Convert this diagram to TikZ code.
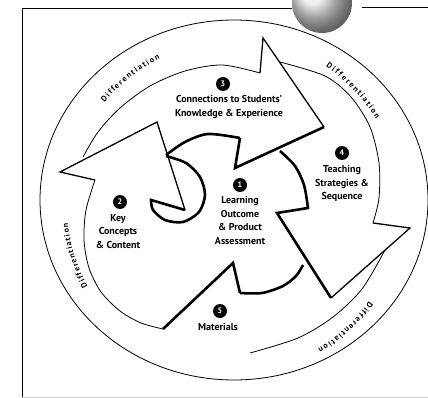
\documentclass[tikz,border=0pt]{standalone}
\usepackage{fontspec}
\setmainfont{PT Sans}
\usetikzlibrary{positioning, decorations.text}

\begin{document}
\begin{tikzpicture}[
x=1pt, y=-1pt,
every node/.style={
align=center,
inner sep=0pt,
font=\bfseries\fontsize{10}{13.5}\selectfont
},
thinline/.style={line width=0.8pt},
edgeline/.style={line width=1.3pt, line join=miter},
heavyline/.style={line width=2.6pt, line join=miter},
badge/.style={circle, fill=black, text=white, minimum size=14pt,
  font=\bfseries\fontsize{8}{8}\selectfont},
difftext/.style={decorate, decoration={text along path,
  text={|\bfseries\fontsize{8}{8}\selectfont|Differentiation},
  text align={fit to path}, raise=-3pt}}
]
\useasboundingbox (0,0) rectangle (428,398);

% ------------------------
% Frame and ball
% ------------------------
\draw[thinline] (22,398) -- (22,8) -- (292,8);
\draw[thinline] (362,7) -- (428,7);
\draw[gray!40, thinline] (22,397) -- (428,397);

% ------------------------
% Differentiation ring
% ------------------------
\draw[thinline] (234,200) ellipse [x radius=194, y radius=180];

\shade[ball color=gray!18] (322,3) circle (30);

% inner edge of the ring (outer edges of the arrows)
\draw[thinline] plot[smooth] coordinates {(83,157) (98,132) (120,108) (150,86) (185,71) (222,65) (260,73)};
\draw[thinline] plot[smooth] coordinates {(280,62) (325,76) (351,97) (370,127) (379,163) (379,198) (373,223)};
\draw[thinline] plot[smooth] coordinates {(385,250) (362,289) (333,317) (298,338) (250,353)};
\draw[thinline] plot[smooth] coordinates {(95,180) (86,210) (84,240) (89,268) (101,292) (120,311) (141,323) (163,329)};

\path[difftext] (232,206) ++(-141:167) arc[start angle=-141, end angle=-116, radius=167];
\path[difftext] (232,206) ++(-56:171) arc[start angle=-56, end angle=-31, radius=171];
\path[difftext] (232,206) ++(35:170) arc[start angle=35, end angle=59, radius=170];
\path[difftext] (232,206) ++(151:168) arc[start angle=151, end angle=174, radius=168];

% ------------------------
% Arrow heads
% ------------------------
% Key Concepts arrow (left)
\draw[edgeline] (95,180) -- (60,172) -- (157,122) -- (185,210);
% Connections arrow (top)
\draw[edgeline] (260,73) -- (263,38) -- (324,127);
\draw[heavyline] (324,127) -- (235,168) -- (240,138);
% Teaching arrow (right)
\draw[edgeline] (373,223) -- (410,228) -- (331,298);

% ------------------------
% Central spiral
% ------------------------
\draw[heavyline] plot[smooth] coordinates {(166,155) (185,142) (208,134) (240,138)};
\draw[heavyline] plot[smooth] coordinates {(166,156) (186,163) (200,177) (205,195) (199,212) (183,222) (165,220) (153,210) (151,200)} -- (185,210);
\draw[heavyline] plot[smooth] coordinates {(280,151) (295,166) (304,185) (308,208)} -- (277,213) -- (331,298);
\draw[heavyline] (163,329) -- (233,263) -- (240,293);
\draw[heavyline] plot[smooth] coordinates {(240,293) (262,293) (283,286) (296,276) (303,265)};

% ------------------------
% Labels
% ------------------------
\node[badge] (b3) at (223,84) {3};
\node (conn) [below=4pt of b3, xshift=6pt] {Connections to Students'\\ Knowledge \& Experience};

\node[badge] (b4) at (342,153) {4};
\node (teach) [below=5pt of b4] {Teaching\\ Strategies \&\\ Sequence};

\node[badge] (b2) at (120,202) {2};
\node (key) [below=5pt of b2, xshift=-2pt] {Key\\ Concepts\\ \& Content};

\node[badge] (b1) at (240,185) {1};
\node (learn) [below=4pt of b1] {Learning\\ Outcome\\ \& Product\\ Assessment};

\node[badge] (b5) at (220,311) {5};
\node (mat) [below=5pt of b5, xshift=-2pt] {Materials};

\end{tikzpicture}
\end{document}
